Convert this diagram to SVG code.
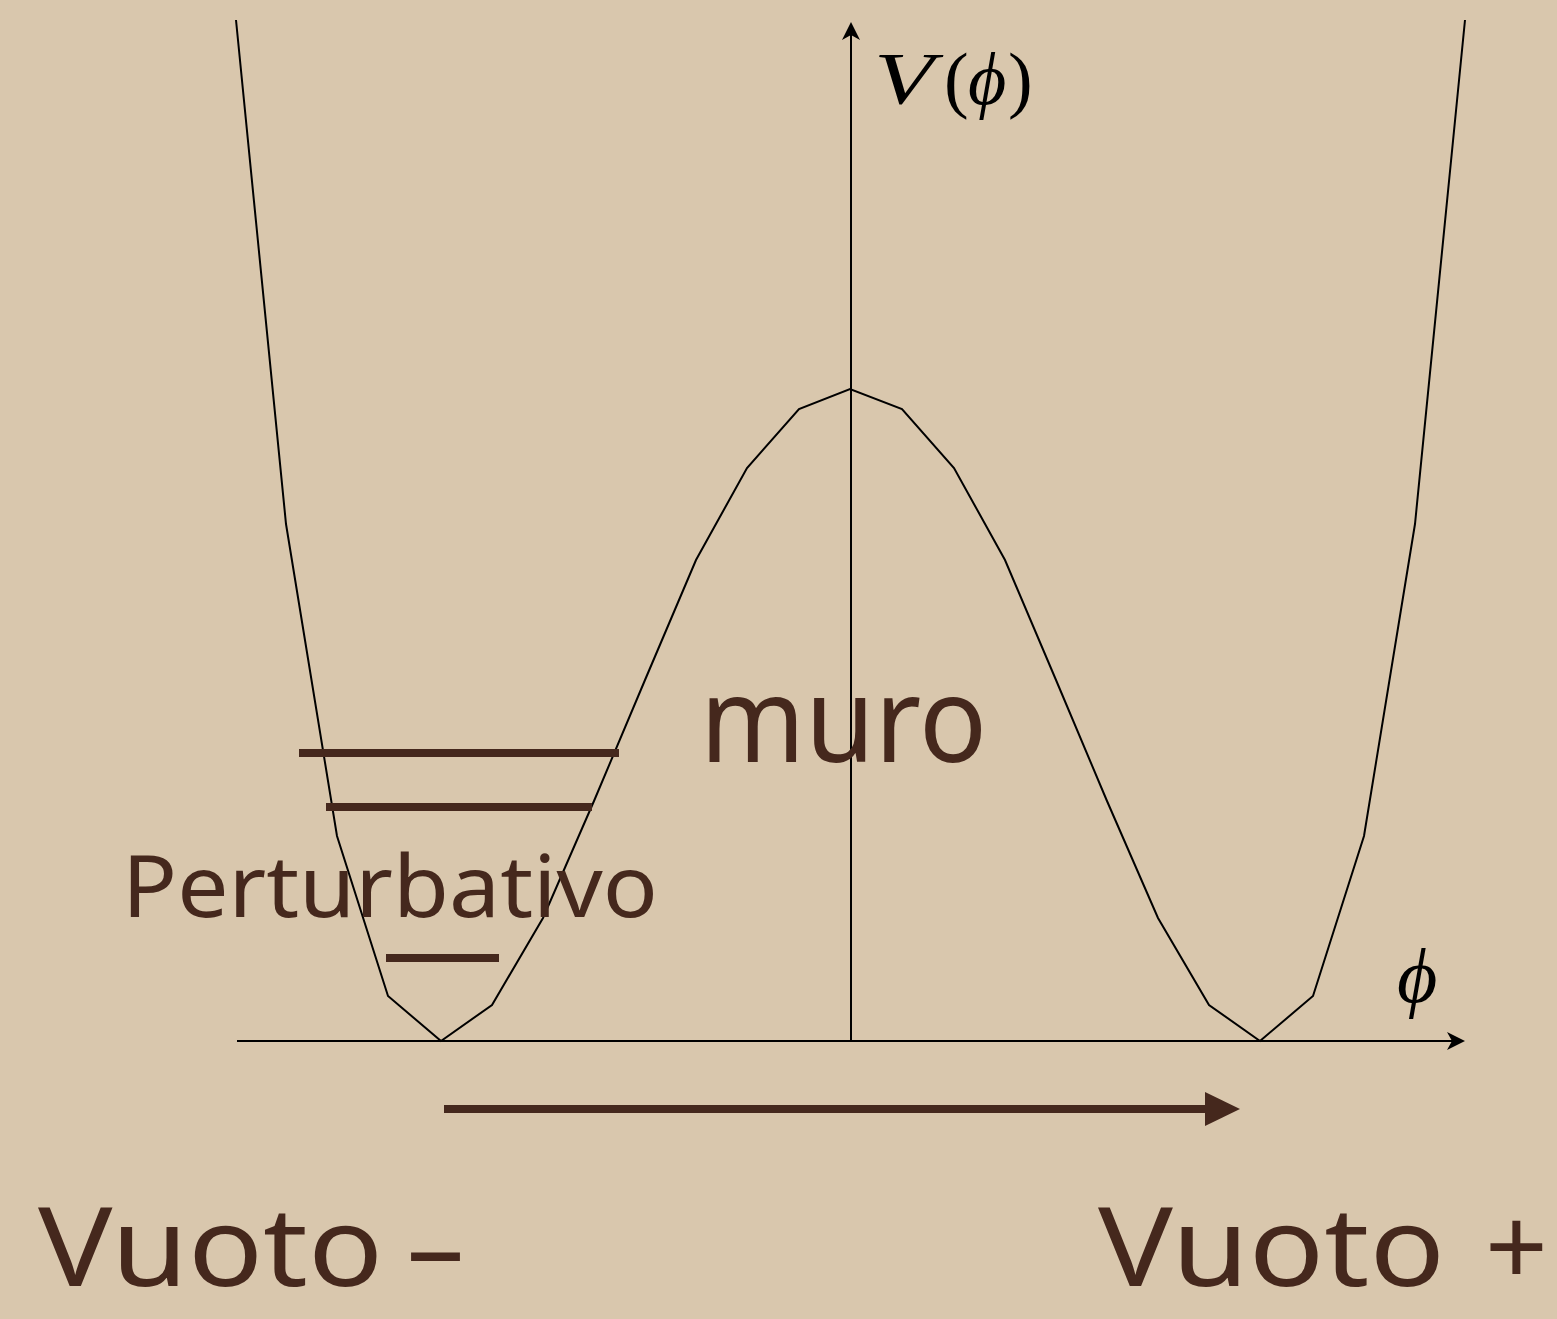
<svg xmlns="http://www.w3.org/2000/svg" width="1557" height="1319" viewBox="0 0 1557 1319">
<defs>
<style>
.ax{stroke:#000;stroke-width:2;fill:none}
.curve{stroke:#000;stroke-width:2;fill:none;stroke-linejoin:miter}
.lvl{stroke:#45281d;stroke-width:8}
.big{stroke:#45281d;stroke-width:8}
.lbl{font-family:"Noto Sans","DejaVu Sans",sans-serif;fill:#45281d}
.math{font-family:"Liberation Serif","DejaVu Serif",serif;fill:#000}
</style>
<marker id="axarrow" viewBox="0 0 20 20" markerWidth="20" markerHeight="20" refX="13" refY="10" orient="auto" markerUnits="userSpaceOnUse">
<path d="M0,1 L18,10 L0,19 L5,10 z" fill="#000"/>
</marker>
<marker id="bigarrow" viewBox="0 0 36 34" markerWidth="36" markerHeight="34" refX="1" refY="17" orient="auto" markerUnits="userSpaceOnUse">
<path d="M0,0 L35,17 L0,34 z" fill="#45281d"/>
</marker>
</defs>
<rect width="1557" height="1319" fill="#d9c7ad"/>
<g id="connectors">
<line id="x-axis" class="ax" x1="237" y1="1041" x2="1460" y2="1041" marker-end="url(#axarrow)"/>
<line id="y-axis" class="ax" x1="851" y1="1041" x2="851" y2="27" marker-end="url(#axarrow)"/>
<polyline id="potential" class="curve" points="236,20 286,524 337,836 388,996 441,1041 492,1005 543,918 594,801 645,680 696,560 747,468 799,409 850,389 902,409 954,468 1005,560 1056,680 1107,801 1158,918 1209,1005 1260,1041 1313,996 1364,836 1415,524 1465,20"/>
<line id="tunnel-arrow" class="big" x1="444" y1="1109" x2="1206" y2="1109" marker-end="url(#bigarrow)"/>
</g>
<g id="levels">
<line class="lvl" x1="299" y1="753" x2="619" y2="753"/>
<line class="lvl" x1="326" y1="807" x2="592" y2="807"/>
<line class="lvl" x1="386" y1="958" x2="499" y2="958"/>
</g>
<g id="label-V">
<text class="math" x="874" y="104" font-size="74"><tspan font-style="italic" textLength="60" lengthAdjust="spacingAndGlyphs">V</tspan><tspan x="944">(</tspan><tspan x="968" font-style="italic">ϕ</tspan><tspan x="1008">)</tspan></text>
</g>
<g id="label-phi">
<text class="math" x="1397" y="1002" font-size="78" font-style="italic">ϕ</text>
</g>
<g id="label-muro">
<text class="lbl" x="700" y="762" font-size="118" textLength="287" lengthAdjust="spacingAndGlyphs">muro</text>
</g>
<g id="label-perturbativo">
<text class="lbl" x="122" y="917" font-size="86" textLength="536" lengthAdjust="spacingAndGlyphs">Perturbativo</text>
</g>
<g id="label-vuoto-minus">
<text class="lbl" x="38" y="1286" font-size="110"><tspan textLength="345" lengthAdjust="spacingAndGlyphs">Vuoto</tspan><tspan x="403" textLength="65" lengthAdjust="spacingAndGlyphs">-</tspan></text>
</g>
<g id="label-vuoto-plus">
<text class="lbl" x="1098" y="1286" font-size="110"><tspan textLength="347" lengthAdjust="spacingAndGlyphs">Vuoto</tspan><tspan x="1485">+</tspan></text>
</g>
</svg>
